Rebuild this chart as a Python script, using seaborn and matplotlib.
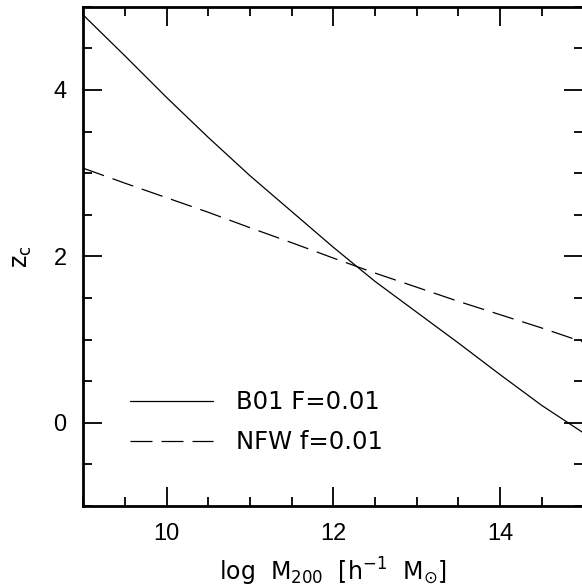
import numpy as np
import pandas as pd
import matplotlib
matplotlib.use("Agg")
import matplotlib.pyplot as plt
import seaborn as sns
from matplotlib.ticker import MultipleLocator

# Data
log_m = [9.0, 9.5, 10.0, 10.5, 11.0, 11.5, 12.0, 12.5, 13.0, 13.5, 14.0, 14.5, 15.0]
zc_b01 = [4.90, 4.41, 3.91, 3.43, 2.97, 2.54, 2.11, 1.70, 1.33, 0.96, 0.58, 0.21, -0.12]
zc_nfw = [3.06, 2.88, 2.705, 2.53, 2.345, 2.165, 1.98, 1.80, 1.63, 1.46, 1.30, 1.14, 0.97]
labels = ["B01 F=0.01", "NFW f=0.01"]
x_ticks = [10, 12, 14]
y_ticks = [0, 2, 4]

sns.set_style("ticks")
plt.rcParams['font.family'] = ['Liberation Sans', 'DejaVu Sans']
plt.rcParams['mathtext.fontset'] = 'custom'
plt.rcParams['mathtext.rm'] = 'DejaVu Sans'
plt.rcParams['mathtext.it'] = 'DejaVu Sans'
plt.rcParams['mathtext.bf'] = 'DejaVu Sans'
for key in ['text.color', 'axes.labelcolor', 'xtick.color', 'ytick.color',
            'xtick.labelcolor', 'ytick.labelcolor']:
    plt.rcParams[key] = 'black'

fig = plt.figure(figsize=(5.82, 5.88), dpi=100)
W, H = 582, 588
ax = fig.add_axes([83.3 / W, 82 / H, 500 / W, (506 - 6.8) / H])

df1 = pd.DataFrame({"x": log_m, "y": zc_b01})
df2 = pd.DataFrame({"x": log_m, "y": zc_nfw})
lw = 0.9
dash = (0, (17.6, 7.2))
sns.lineplot(data=df1, x="x", y="y", ax=ax, color="black", lw=lw, label=labels[0])
sns.lineplot(data=df2, x="x", y="y", ax=ax, color="black", lw=lw,
             linestyle=dash, label=labels[1])

ax.set_xlim(9, 15)
ax.set_ylim(-1, 5)
ax.set_xticks(x_ticks)
ax.set_yticks(y_ticks)
ax.xaxis.set_minor_locator(MultipleLocator(0.5))
ax.yaxis.set_minor_locator(MultipleLocator(0.5))
ax.tick_params(which='both', direction='in', top=True, right=True,
               width=1.3, color='black', labelcolor='black', labelsize=17, pad=12)
ax.tick_params(which='major', length=13.5)
ax.tick_params(which='minor', length=6.5)
for s in ax.spines.values():
    s.set_linewidth(2.0)
    s.set_color('black')

ax.set_xlabel(r"log  M$_{200}$  [h$^{-1}$  M$_{\odot}$]", fontsize=17, labelpad=8,
              family=['DejaVu Sans'], color='black')
ax.set_ylabel(r"z$_{\rm c}$", fontsize=17, labelpad=14, family=['DejaVu Sans'],
              color='black')

leg = ax.legend(loc='lower left', bbox_to_anchor=(0.073, 0.084), frameon=False,
                prop={'family': 'DejaVu Sans', 'size': 17.5},
                handlelength=3.45, handletextpad=0.95,
                labelspacing=0.66, borderaxespad=0, labelcolor='black')
for h in leg.get_lines():
    h.set_linewidth(lw)

fig.savefig("out.png", dpi=100)
